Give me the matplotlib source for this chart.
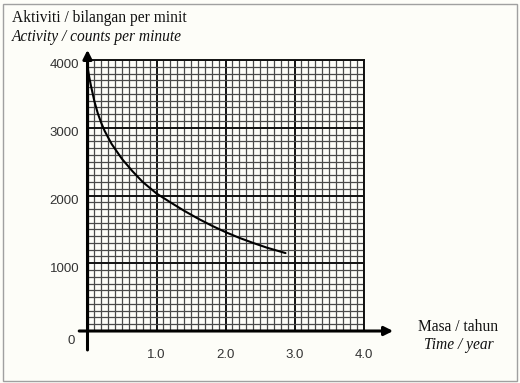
import matplotlib
matplotlib.use("Agg")
import matplotlib.pyplot as plt
import matplotlib.patches as patches
import matplotlib.transforms as mtransforms
import numpy as np

# ---- data ----
time_years = [0.0, 0.025, 0.05, 0.1, 0.15, 0.2, 0.25, 0.35, 0.5, 0.65, 0.8, 1.0,
              1.2, 1.4, 1.6, 1.8, 2.0, 2.2, 2.4, 2.6, 2.87]
activity = [3900, 3750, 3620, 3390, 3210, 3070, 2950, 2760, 2540, 2360, 2200, 2030,
            1900, 1775, 1660, 1555, 1460, 1375, 1300, 1230, 1150]
x_ticks = [1.0, 2.0, 3.0, 4.0]
x_tick_labels = ["1.0", "2.0", "3.0", "4.0"]
y_ticks = [0, 1000, 2000, 3000, 4000]
y_tick_labels = ["0", "1000", "2000", "3000", "4000"]

BG = "#fdfdf8"
W, H = 520, 383
fig = plt.figure(figsize=(W / 100, H / 100), dpi=100, facecolor=BG)

# frame round the picture
fig.patches.append(patches.Rectangle((2.5 / W, 2.5 / H), 514 / W, 377 / H,
                                     transform=fig.transFigure, fill=False,
                                     edgecolor="#a0a0a0", lw=1))

x0, x1 = 87.5, 363.5
ytop, ybot = 60, 331
ax = fig.add_axes([x0 / W, (H - ybot) / H, (x1 - x0) / W, (ybot - ytop) / H])
ax.set_facecolor(BG)
ax.set_xlim(0, 4)
ax.set_ylim(0, 4000)

# grid paper
ax.set_xticks(np.arange(0, 4.01, 1.0))
ax.set_xticks(np.arange(0, 4.01, 0.1), minor=True)
ax.set_yticks(np.arange(0, 4001, 1000))
ax.set_yticks(np.arange(0, 4001, 100), minor=True)
ax.grid(which="minor", color="#4a4a4a", lw=0.9)
ax.grid(which="major", color="#111111", lw=1.4)
ax.set_axisbelow(True)
ax.tick_params(which="both", length=0)

for side in ["left", "bottom"]:
    ax.spines[side].set_visible(False)
for side in ["top", "right"]:
    ax.spines[side].set_color("#111111")
    ax.spines[side].set_linewidth(1.4)

# tick labels
ax.set_xticks(x_ticks, x_tick_labels)
ax.set_yticks(y_ticks, y_tick_labels)
ax.tick_params(axis="x", pad=13, labelsize=9.5, labelcolor="#333333")
ax.tick_params(axis="y", pad=6, labelsize=9.5, labelcolor="#333333")
for lab in ax.get_xticklabels() + ax.get_yticklabels():
    lab.set_fontfamily("Liberation Sans")
ylabs = ax.get_yticklabels()
for i, lab in enumerate(ylabs):
    if i == 0:
        dx, dy = -4, -8
    else:
        dx, dy = 0, -4
    lab.set_transform(lab.get_transform() +
                      mtransforms.ScaledTranslation(dx / 100, dy / 100, fig.dpi_scale_trans))

# curve
ax.plot(time_years, activity, color="black", lw=1.5, zorder=5,
        solid_joinstyle="round", solid_capstyle="round")

# axes with arrows
arrow = dict(arrowstyle="-|>", color="black", lw=2.2, mutation_scale=13,
             shrinkA=0, shrinkB=0)
ax.annotate("", xy=(4.43, 0), xytext=(-0.12, 0), xycoords="data",
            arrowprops=arrow, annotation_clip=False, zorder=6)
ax.annotate("", xy=(0, 4150), xytext=(0, -280), xycoords="data",
            arrowprops=arrow, annotation_clip=False, zorder=6)

# texts
fs = 11.2
fig.text(12 / W, 1 - 18 / H, "Aktiviti / bilangan per minit", family="Liberation Serif",
         fontsize=fs, va="center", ha="left", color="#111111")
fig.text(12 / W, 1 - 37 / H, "Activity / counts per minute", family="Liberation Serif",
         style="italic", fontsize=fs, va="center", ha="left", color="#111111")
fig.text(458 / W, 1 - 327 / H, "Masa / tahun", family="Liberation Serif",
         fontsize=fs, va="center", ha="center", color="#111111")
fig.text(459 / W, 1 - 345 / H, "Time / year", family="Liberation Serif",
         style="italic", fontsize=fs, va="center", ha="center", color="#111111")

fig.savefig("out.png", dpi=100, facecolor=BG)
